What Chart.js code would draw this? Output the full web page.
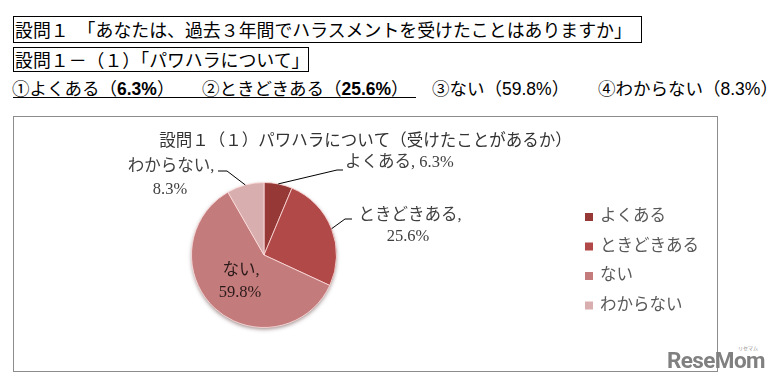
<!DOCTYPE html>
<html><head><meta charset="utf-8">
<script src="https://cdn.jsdelivr.net/npm/chart.js@4"></script>
<style>
html,body{margin:0;padding:0;background:#fff;}
body{width:779px;height:383px;position:relative;overflow:hidden;font-family:'Noto Sans CJK JP',sans-serif;color:#000;}
.hd{position:absolute;white-space:nowrap;font-size:17.9px;line-height:24px;}
.box{position:absolute;border:1px solid #000;box-sizing:border-box;}
.seg{position:absolute;white-space:nowrap;font-size:17.5px;line-height:22px;top:77px;}
.seg b{font-family:'Liberation Sans',sans-serif;font-weight:bold;}
.seg span.n{font-family:'Liberation Sans',sans-serif;}
#wrap{position:absolute;left:13px;top:116px;width:705px;height:256px;}
#frame{position:absolute;left:13px;top:116px;width:705px;height:256px;border:1px solid #8c8c8c;box-sizing:border-box;pointer-events:none;}
#logo{position:absolute;left:667px;top:347px;font-family:Roboto,sans-serif;font-weight:bold;font-size:22.5px;color:#808080;letter-spacing:-0.6px;line-height:26px;}
#logosmall{position:absolute;left:738px;top:345px;font-size:5px;color:#909090;line-height:6px;}
</style></head>
<body>
<div class="box" style="left:13px;top:16px;width:629px;height:27px;"></div>
<div class="hd" style="left:15px;top:17px;">設問１　「あなたは、過去３年間でハラスメントを受けたことはありますか」</div>
<div class="box" style="left:13px;top:47px;width:296px;height:25px;"></div>
<div class="hd" style="left:15px;top:47px;">設問１－（１）「パワハラについて」</div>
<div class="seg" style="left:12px;">①よくある（<b>6.3%</b>）</div>
<div class="seg" style="left:202px;">②ときどきある（<b>25.6%</b>）</div>
<div class="seg" style="left:432px;">③ない（<span class="n">59.8%</span>）</div>
<div class="seg" style="left:598px;">④わからない（<span class="n">8.3%</span>）</div>
<div style="position:absolute;left:13px;top:97px;width:403px;height:0;border-top:1.5px solid #000;"></div>
<div id="wrap"><canvas id="c"></canvas></div>
<div id="frame"></div>
<div id="logosmall">リセマム</div>
<div id="logo">ReseMom</div>
<script>
// ---- data ----
const categories = ['よくある', 'ときどきある', 'ない', 'わからない'];
const values = [6.3, 25.6, 59.8, 8.3];
const chartTitle = '設問１（１）パワハラについて（受けたことがあるか）';
// ---- styles ----
const sliceColors = ['#953836', '#B04947', '#C47B7B', '#D9AEAE'];
const serifFont = "'Liberation Serif','Noto Sans CJK JP',serif";

// label layout (offsets from the pie centre, px)
const labelLayout = [
  {elbow: [73, -85], end: [79, -85], lines: [{dx: 81, dy: -92, align: 'left', t: (c, v) => c + ', ' + v + '%'}]},
  {elbow: [81, -36], end: [88, -36], lines: [{dx: 146, dy: -39, align: 'center', t: (c, v) => c + ','}, {dx: 144, dy: -18, align: 'center', t: (c, v) => v + '%'}]},
  {elbow: null, end: null, lines: [{dx: -23, dy: 16, align: 'center', t: (c, v) => c + ','}, {dx: -24, dy: 38, align: 'center', t: (c, v) => v + '%'}]},
  {elbow: [-37, -84], end: [-46, -84], lines: [{dx: -93, dy: -88, align: 'center', t: (c, v) => c + ','}, {dx: -94, dy: -65, align: 'center', t: (c, v) => v + '%'}]}
];

const decor = {
  id: 'decor',
  beforeDatasetsDraw(chart) {
    const a = chart.getDatasetMeta(0).data[0];
    const ctx = chart.ctx;
    ctx.save();
    ctx.shadowColor = 'rgba(60,20,20,0.55)';
    ctx.shadowBlur = 4;
    ctx.shadowOffsetX = 0;
    ctx.shadowOffsetY = 2;
    ctx.beginPath();
    ctx.arc(a.x, a.y, a.outerRadius - 0.5, 0, Math.PI * 2);
    ctx.fillStyle = sliceColors[2];
    ctx.fill();
    ctx.restore();
  },
  afterDatasetsDraw(chart) {
    const ctx = chart.ctx;
    const meta = chart.getDatasetMeta(0);
    const cx = meta.data[0].x, cy = meta.data[0].y;
    ctx.save();
    // title
    ctx.font = '16.5px ' + serifFont;
    ctx.fillStyle = '#333';
    ctx.textAlign = 'center';
    ctx.textBaseline = 'middle';
    ctx.fillText(chartTitle, chart.width / 2, 26);
    // data labels + leader lines
    meta.data.forEach((arc, i) => {
      const L = labelLayout[i];
      const mid = (arc.startAngle + arc.endAngle) / 2;
      const r = arc.outerRadius;
      if (L.elbow) {
        ctx.beginPath();
        ctx.strokeStyle = '#000';
        ctx.lineWidth = 1;
        ctx.moveTo(cx + Math.cos(mid) * r, cy + Math.sin(mid) * r);
        ctx.lineTo(cx + L.elbow[0], cy + L.elbow[1]);
        ctx.lineTo(cx + L.end[0], cy + L.end[1]);
        ctx.stroke();
      }
      ctx.fillStyle = i === 2 ? '#2a1a1a' : '#404040';
      ctx.font = '16.5px ' + serifFont;
      L.lines.forEach(ln => {
        ctx.textAlign = ln.align;
        ctx.fillText(ln.t(categories[i], values[i]), cx + ln.dx, cy + ln.dy);
      });
    });
    // legend
    const lx = 572, ly0 = 101, lstep = 29.5;
    ctx.font = '16.5px ' + serifFont;
    ctx.textAlign = 'left';
    categories.forEach((c, i) => {
      const y = ly0 + i * lstep;
      ctx.fillStyle = sliceColors[i];
      ctx.fillRect(lx, y - 4, 8, 8);
      ctx.fillStyle = '#595959';
      ctx.fillText(c, lx + 15, y);
    });
    ctx.restore();
  }
};

new Chart(document.getElementById('c'), {
  type: 'pie',
  data: {
    labels: categories,
    datasets: [{
      data: values,
      backgroundColor: sliceColors,
      borderColor: 'rgba(255,225,225,0.8)',
      borderWidth: 1,
      hoverOffset: 0
    }]
  },
  options: {
    responsive: true,
    maintainAspectRatio: false,
    animation: false,
    events: [],
    layout: {padding: {left: 178, right: 381, top: 66, bottom: 44}},
    plugins: {legend: {display: false}, title: {display: false}, tooltip: {enabled: false}}
  },
  plugins: [decor]
});
</script>
</body></html>
